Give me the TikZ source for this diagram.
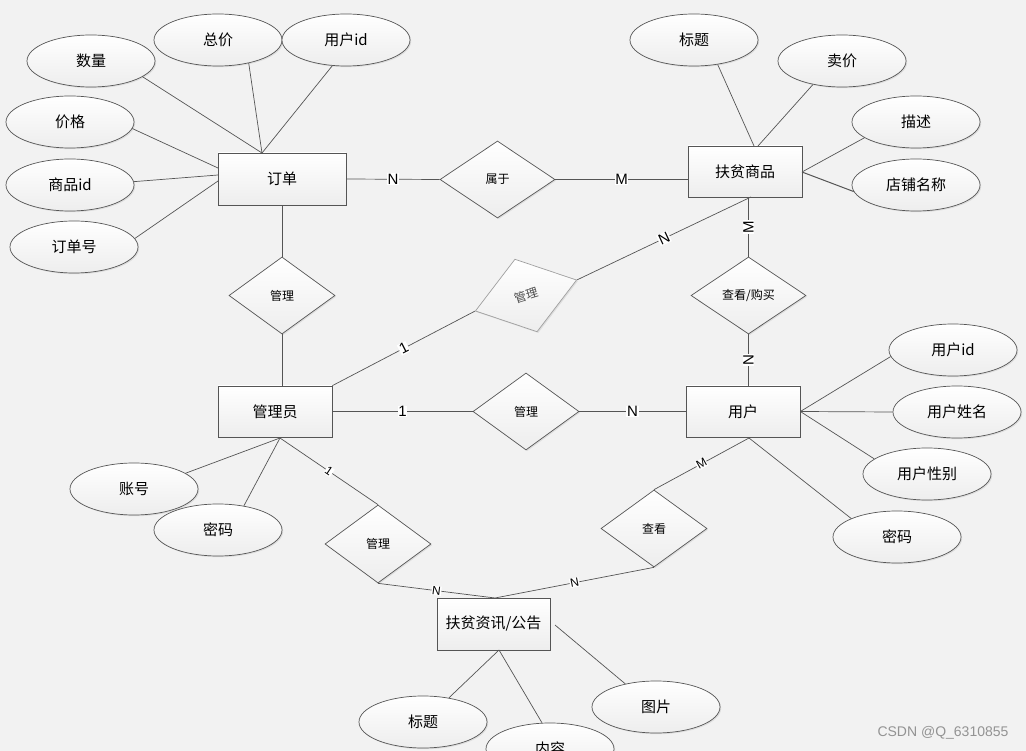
\documentclass[tikz,border=0pt]{standalone}
\usepackage{fontspec}
\setmainfont{Noto Sans CJK SC}
\newfontfamily\labfont{Liberation Sans}
\usetikzlibrary{shapes.geometric,shadows,calc}
\definecolor{ln}{RGB}{85,85,85}
\definecolor{bg}{RGB}{242,242,242}
\begin{document}
\begin{tikzpicture}[x=1pt,y=-1pt,
  conn/.style={draw=ln, line width=0.7pt},
  shp/.style={draw=ln, line width=0.7pt, top color=white, bottom color=black!7,
    drop shadow={shadow xshift=1.2pt, shadow yshift=-1.2pt, opacity=0.18}},
  ent/.style={shp, rectangle, minimum width=114pt, minimum height=51pt, inner sep=0pt, font=\fontsize{15}{18}\selectfont},
  attr/.style={shp, ellipse, minimum width=128pt, minimum height=52pt, inner sep=0pt, font=\fontsize{15}{18}\selectfont},
  rel/.style={shp, diamond, minimum width=106pt, minimum height=77pt, inner sep=0pt, font=\fontsize{12}{14}\selectfont},
  card/.style={fill=white, inner sep=0.6pt, font=\labfont\fontsize{15}{15}\selectfont},
  cards/.style={fill=white, inner sep=0.5pt, font=\labfont\fontsize{12}{12}\selectfont},
]
\useasboundingbox (0,0) rectangle (1026,751);
\fill[bg] (0,0) rectangle (1026,751);
\clip (0,0) rectangle (1026,751);

% entities
\node[ent, minimum width=128pt, minimum height=52pt] (dd) at (282,179) {订单};
\node[ent] (fp) at (745,171.5) {扶贫商品};
\node[ent] (gly) at (275,411.5) {管理员};
\node[ent] (yh) at (743,411.5) {用户};
\node[ent, minimum width=113pt, minimum height=52pt] (zx) at (493.5,624) {扶贫资讯/公告};

% relationships
\node[rel, minimum width=115pt] (sy) at (497.5,179.5) {属于};
\node[rel] (gl1) at (282,295.5) {管理};
\node[rel, minimum width=115pt] (ck1) at (748.5,295.5) {查看/购买};
\node[rel, rotate=17, draw=gray!75, text=black!70, minimum height=76pt] (gl2) at (526,295.5) {管理};
\node[rel] (gl3) at (526,411.5) {管理};
\node[rel, minimum height=78pt] (gl4) at (378,544) {管理};
\node[rel] (ck2) at (654,528.5) {查看};

% attributes
\node[attr] (a1) at (91,61) {数量};
\node[attr] (a2) at (218,40) {总价};
\node[attr] (a3) at (346,40) {用户id};
\node[attr] (a4) at (70,122) {价格};
\node[attr] (a5) at (70,185) {商品id};
\node[attr] (a6) at (74,247) {订单号};
\node[attr] (b1) at (694,40) {标题};
\node[attr] (b2) at (842,61) {卖价};
\node[attr] (b3) at (916,122) {描述};
\node[attr] (b4) at (916,185) {店铺名称};
\node[attr] (c1) at (953,350) {用户id};
\node[attr] (c2) at (957,412) {用户姓名};
\node[attr] (c3) at (927,474) {用户性别};
\node[attr] (c4) at (897,537) {密码};
\node[attr] (d1) at (134,489) {账号};
\node[attr] (d2) at (218,530) {密码};
\node[attr] (e1) at (423,722) {标题};
\node[attr] (e2) at (550,749) {内容};
\node[attr] (e3) at (656,707) {图片};

% connection points on entity borders
\coordinate (ddT) at (262,153);
\coordinate (ddL1) at (218,168);
\coordinate (ddL2) at (218,175);
\coordinate (ddL3) at (218,181);
\coordinate (fpT1) at (754,146);
\coordinate (fpT2) at (758,146);
\coordinate (fpR) at (802,172);
\coordinate (fpB) at (751,197);
\coordinate (glyB) at (280,438);
\coordinate (yhB) at (749,438);
\coordinate (zxT) at (495,598);
\coordinate (zxB) at (499,650);
\coordinate (zxR) at (555,625);

% attribute lines
\draw[conn] (a1.-17) -- (ddT);
\draw[conn] (a2.-37) -- (ddT);
\draw[conn] (a3.-118) -- (ddT);
\draw[conn] (a4.-6) -- (ddL1);
\draw[conn] (a5.3) -- (ddL2);
\draw[conn] (a6.8) -- (ddL3);
\draw[conn] (b1.-46) -- (fpT1);
\draw[conn] (b2.-141) -- (fpT2);
\draw[conn] (b3.-163) -- (fpR);
\draw[conn, line width=1pt] (b4.-174) -- (fpR);
\draw[conn] (c1.-174) -- (yh.east);
\draw[conn] (c2.west) -- (yh.east);
\draw[conn] (c3.164) -- (yh.east);
\draw[conn] (c4.158) -- (yhB);
\draw[conn] (d1.17) -- (glyB);
\draw[conn] (d2.43) -- (glyB);
\draw[conn] (e1.43) -- (zxB);
\draw[conn] (e2.107) -- (zxB);
\draw[conn] (e3.143) -- (zxR);

% relationship lines
\draw[conn] (dd.east) -- node[card]{N} (sy.west);
\draw[conn] (sy.east) -- node[card]{M} (sy.east -| fp.west);
\draw[conn] (dd.south) -- (gl1.north);
\draw[conn] (gl1.south) -- (gl1.south |- gly.north);
\draw[conn] (ck1.north) -- node[card, rotate=90]{M} (ck1.north |- fp.south);
\draw[conn] (ck1.south) -- node[card, rotate=90]{N} (ck1.south |- yh.north);
\draw[conn] (gly.north east) -- node[card, rotate=27]{1} (gl2.west);
\draw[conn] (gl2.east) -- node[card, rotate=25]{N} (fpB);
\draw[conn] (gly.east) -- node[card]{1} (gl3.west);
\draw[conn] (gl3.east) -- node[card]{N} (yh.west);
\draw[conn] (glyB) -- node[cards, rotate=-34]{1} (gl4.north);
\draw[conn] (gl4.south) -- node[cards, rotate=-7]{N} (zxT);
\draw[conn] (ck2.south) -- node[cards, rotate=11]{N} (zxT);
\draw[conn] (ck2.north) -- node[cards, rotate=29]{M} (yhB);

% watermark
\node[text=gray!85, font=\labfont\fontsize{14}{14}\selectfont] (wm) at (943,733) {CSDN @Q\_6310855};
\end{tikzpicture}
\end{document}
